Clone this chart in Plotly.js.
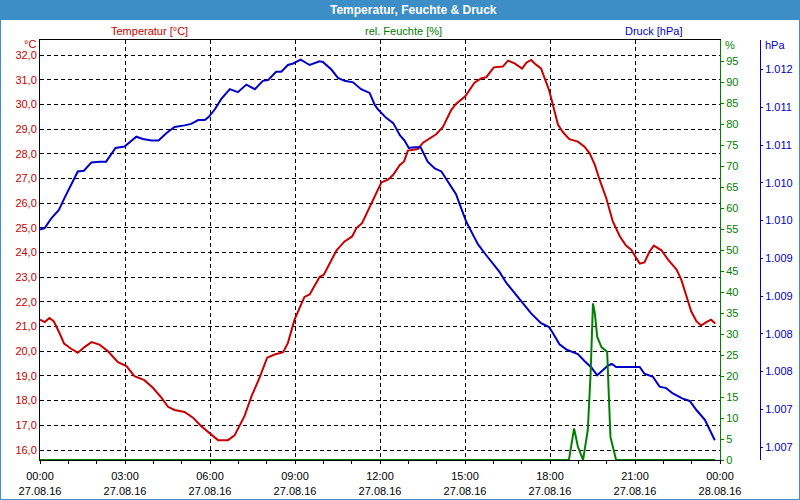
<!DOCTYPE html>
<html>
<head>
<meta charset="utf-8">
<script src="https://cdn.plot.ly/plotly-3.0.1.min.js"></script>
<style>html,body{margin:0;padding:0;background:#fff}#chart{width:800px;height:500px}</style>
</head>
<body>
<div id="chart"></div>
<script>
// ---- data (hours after 27.08.16 00:00) ----
const tempHour = [0.00,0.17,0.34,0.49,0.69,0.85,1.10,1.34,1.58,1.81,2.10,2.40,2.75,3.05,3.34,3.69,3.99,4.28,4.52,4.75,5.10,5.40,5.69,5.93,6.28,6.64,6.87,7.22,7.46,7.75,8.02,8.28,8.58,8.75,8.99,9.34,9.52,9.87,10.02,10.46,10.75,11.01,11.17,11.36,11.75,12.05,12.28,12.46,12.70,12.85,12.99,13.34,13.52,13.69,13.99,14.22,14.52,14.69,15.01,15.34,15.58,15.75,16.02,16.34,16.52,16.75,17.01,17.16,17.34,17.52,17.69,17.83,17.96,18.11,18.28,18.46,18.69,18.99,19.22,19.40,19.58,19.75,19.99,20.22,20.46,20.69,20.87,21.17,21.34,21.52,21.67,21.93,22.16,22.46,22.63,22.81,22.99,23.16,23.34,23.52,23.69,23.83];
const tempVal = [21.28,21.18,21.35,21.22,20.75,20.31,20.10,19.94,20.18,20.37,20.27,20.00,19.56,19.40,18.99,18.83,18.52,18.12,17.75,17.62,17.54,17.31,16.97,16.73,16.40,16.40,16.59,17.37,18.18,18.93,19.74,19.87,19.96,20.34,21.28,22.20,22.30,23.01,23.10,24.09,24.45,24.65,24.99,25.19,26.14,26.84,26.95,27.15,27.55,27.69,28.13,28.19,28.45,28.56,28.79,29.08,29.78,30.02,30.34,30.88,31.06,31.10,31.50,31.53,31.77,31.66,31.45,31.69,31.80,31.60,31.46,30.99,30.58,29.91,29.17,28.86,28.59,28.49,28.29,28.02,27.55,26.95,26.21,25.26,24.65,24.28,24.11,23.55,23.60,24.05,24.28,24.09,23.71,23.31,22.90,22.23,21.62,21.22,21.04,21.18,21.28,21.12];

const pressHour = [0.00,0.17,0.40,0.66,0.87,1.10,1.34,1.55,1.81,2.10,2.34,2.66,2.99,3.40,3.64,3.93,4.19,4.46,4.75,5.10,5.34,5.58,5.81,5.95,6.16,6.40,6.70,6.99,7.28,7.58,7.87,8.05,8.34,8.52,8.75,8.93,9.20,9.52,9.87,9.99,10.28,10.52,10.75,11.05,11.34,11.64,11.81,11.93,12.22,12.46,12.70,12.87,13.01,13.22,13.44,13.69,13.93,14.16,14.40,14.69,14.87,15.05,15.28,15.46,15.75,16.02,16.22,16.46,16.75,17.05,17.34,17.69,17.96,18.11,18.34,18.58,18.81,18.99,19.22,19.46,19.67,19.87,20.05,20.19,20.34,20.75,21.17,21.34,21.64,21.87,22.10,22.34,22.69,22.93,23.16,23.46,23.64,23.81];
const pressVal = [1009.38,1009.40,1009.53,1009.64,1009.80,1009.97,1010.15,1010.16,1010.27,1010.28,1010.28,1010.46,1010.48,1010.61,1010.58,1010.56,1010.56,1010.66,1010.74,1010.76,1010.78,1010.83,1010.83,1010.87,1010.97,1011.11,1011.24,1011.20,1011.30,1011.24,1011.35,1011.36,1011.47,1011.47,1011.56,1011.58,1011.63,1011.56,1011.61,1011.60,1011.50,1011.39,1011.35,1011.33,1011.24,1011.19,1011.03,1010.97,1010.86,1010.79,1010.63,1010.56,1010.46,1010.47,1010.47,1010.28,1010.19,1010.15,1010.02,1009.85,1009.66,1009.48,1009.31,1009.18,1009.04,1008.91,1008.82,1008.67,1008.54,1008.40,1008.27,1008.14,1008.09,1008.00,1007.86,1007.79,1007.75,1007.73,1007.64,1007.55,1007.45,1007.52,1007.58,1007.60,1007.56,1007.56,1007.56,1007.47,1007.43,1007.30,1007.28,1007.21,1007.14,1007.11,1006.99,1006.86,1006.74,1006.59];

const humHour = [0.00,18.66,18.85,18.99,19.16,19.34,19.43,19.52,19.58,19.67,19.81,20.02,20.14,20.34,23.83];
const humVal  = [0,0,7.5,3.2,0,7.1,20.6,37.3,34.9,29.3,26.9,25.8,5.5,0,0];

// ---- tick labels ----
const xTickHour  = [0,3,6,9,12,15,18,21,24];
const xTickText  = ['00:00<br>27.08.16','03:00<br>27.08.16','06:00<br>27.08.16','09:00<br>27.08.16','12:00<br>27.08.16','15:00<br>27.08.16','18:00<br>27.08.16','21:00<br>27.08.16','00:00<br>28.08.16'];
const pressTickVals = [1006.5,1007.0,1007.5,1008.0,1008.5,1009.0,1009.5,1010.0,1010.5,1011.0,1011.5];
const pressTickText = ['1.007','1.007','1.008','1.008','1.009','1.009','1.010','1.010','1.011','1.011','1.012'];
const humTickVals = [0,5,10,15,20,25,30,35,40,45,50,55,60,65,70,75,80,85,90,95];

function toDate(h){
  const m = Math.round(h*60);
  const day = 27 + Math.floor(m/1440);
  const mm = m % 1440;
  const hh = Math.floor(mm/60), mi = mm % 60;
  return '2016-08-' + day + ' ' + String(hh).padStart(2,'0') + ':' + String(mi).padStart(2,'0');
}

const RED = '#c80000', GREEN = '#008000', BLUE = '#0000c8', BAR = '#3d8ec6';
const FONT = 'Liberation Sans, Arial, sans-serif';

const traces = [
  {x: tempHour.map(toDate), y: tempVal, type:'scatter', mode:'lines', yaxis:'y', line:{color:RED, width:2}, hoverinfo:'skip'},
  {x: pressHour.map(toDate), y: pressVal, type:'scatter', mode:'lines', yaxis:'y2', line:{color:BLUE, width:2}, hoverinfo:'skip'},
  {x: humHour.map(toDate), y: humVal, type:'scatter', mode:'lines', yaxis:'y3', line:{color:GREEN, width:2}, hoverinfo:'skip'}
];

// paper coordinate helpers: plot area px 40..760 (x), 40..460 (y)
const px = v => (v-40)/720;
const py = v => (460-v)/420;

const layout = {
  width:800, height:500,
  margin:{l:40, r:40, t:40, b:40, pad:0},
  paper_bgcolor:'#ffffff', plot_bgcolor:'#ffffff',
  showlegend:false,
  separators:',.',
  font:{family:FONT, size:11, color:'#000'},
  xaxis:{
    domain:[0, 680/720], type:'date',
    range:[toDate(0), toDate(24)],
    tickvals: xTickHour.map(toDate), ticktext: xTickText,
    tickfont:{family:FONT, size:11, color:'#000'},
    ticks:'outside', ticklen:3, tickcolor:'#000', tickwidth:1,
    ticklabelstandoff:3,
    minor:{dtick:3600000, ticks:'outside', ticklen:3, tickcolor:'#000', showgrid:false},
    showline:true, linecolor:'#000', linewidth:1, mirror:true,
    showgrid:true, gridcolor:'#000', gridwidth:1, griddash:'4px,3px',
    zeroline:false, fixedrange:true
  },
  yaxis:{
    range:[15.595, 32.608], tick0:0, dtick:1, tickformat:'.1f',
    tickfont:{family:FONT, size:11, color:RED},
    ticks:'', showline:true, linecolor:'#000', linewidth:1,
    showgrid:true, gridcolor:'#000', gridwidth:1, griddash:'4px,3px',
    zeroline:false, fixedrange:true
  },
  yaxis2:{
    overlaying:'y', side:'right', anchor:'free', position:1,
    range:[1006.328, 1011.891], tickvals:pressTickVals, ticktext:pressTickText,
    tickfont:{family:FONT, size:11, color:BLUE},
    ticks:'outside', ticklen:2, tickcolor:BLUE,
    showline:true, linecolor:BLUE, linewidth:1,
    showgrid:false, zeroline:false, fixedrange:true
  },
  yaxis3:{
    overlaying:'y', side:'right', anchor:'x',
    range:[0,100], tickvals:humTickVals,
    tickfont:{family:FONT, size:11, color:GREEN},
    ticks:'outside', ticklen:3, tickcolor:GREEN,
    showline:true, linecolor:GREEN, linewidth:1,
    showgrid:false, zeroline:false, fixedrange:true
  },
  shapes:[
    {type:'rect', xref:'paper', yref:'paper', x0:px(0), x1:px(800), y0:py(20), y1:py(0), fillcolor:BAR, line:{width:0}, layer:'below'},
    {type:'rect', xref:'paper', yref:'paper', x0:px(0), x1:px(800), y0:py(500), y1:py(0), fillcolor:'rgba(0,0,0,0)', line:{color:BAR, width:2}, layer:'above'}
  ],
  annotations:[
    {text:'<b>Temperatur, Feuchte &amp; Druck</b>', xref:'paper', yref:'paper', x:px(413), y:py(10), xanchor:'center', yanchor:'middle', showarrow:false, font:{family:FONT, size:12, color:'#ffffff'}},
    {text:'Temperatur [°C]', xref:'paper', yref:'paper', x:px(149), y:py(31), xanchor:'center', yanchor:'middle', showarrow:false, font:{family:FONT, size:11, color:RED}},
    {text:'rel. Feuchte [%]', xref:'paper', yref:'paper', x:px(403), y:py(31), xanchor:'center', yanchor:'middle', showarrow:false, font:{family:FONT, size:11, color:GREEN}},
    {text:'Druck [hPa]', xref:'paper', yref:'paper', x:px(653), y:py(31), xanchor:'center', yanchor:'middle', showarrow:false, font:{family:FONT, size:11, color:BLUE}},
    {text:'°C', xref:'paper', yref:'paper', x:px(38), y:py(44), xanchor:'right', yanchor:'middle', showarrow:false, font:{family:FONT, size:11, color:RED}},
    {text:'%', xref:'paper', yref:'paper', x:px(723), y:py(45), xanchor:'left', yanchor:'middle', showarrow:false, font:{family:FONT, size:11, color:GREEN}},
    {text:'hPa', xref:'paper', yref:'paper', x:px(763), y:py(45), xanchor:'left', yanchor:'middle', showarrow:false, font:{family:FONT, size:11, color:BLUE}}
  ]
};

Plotly.newPlot('chart', traces, layout, {staticPlot:true, displayModeBar:false});
</script>
</body>
</html>
